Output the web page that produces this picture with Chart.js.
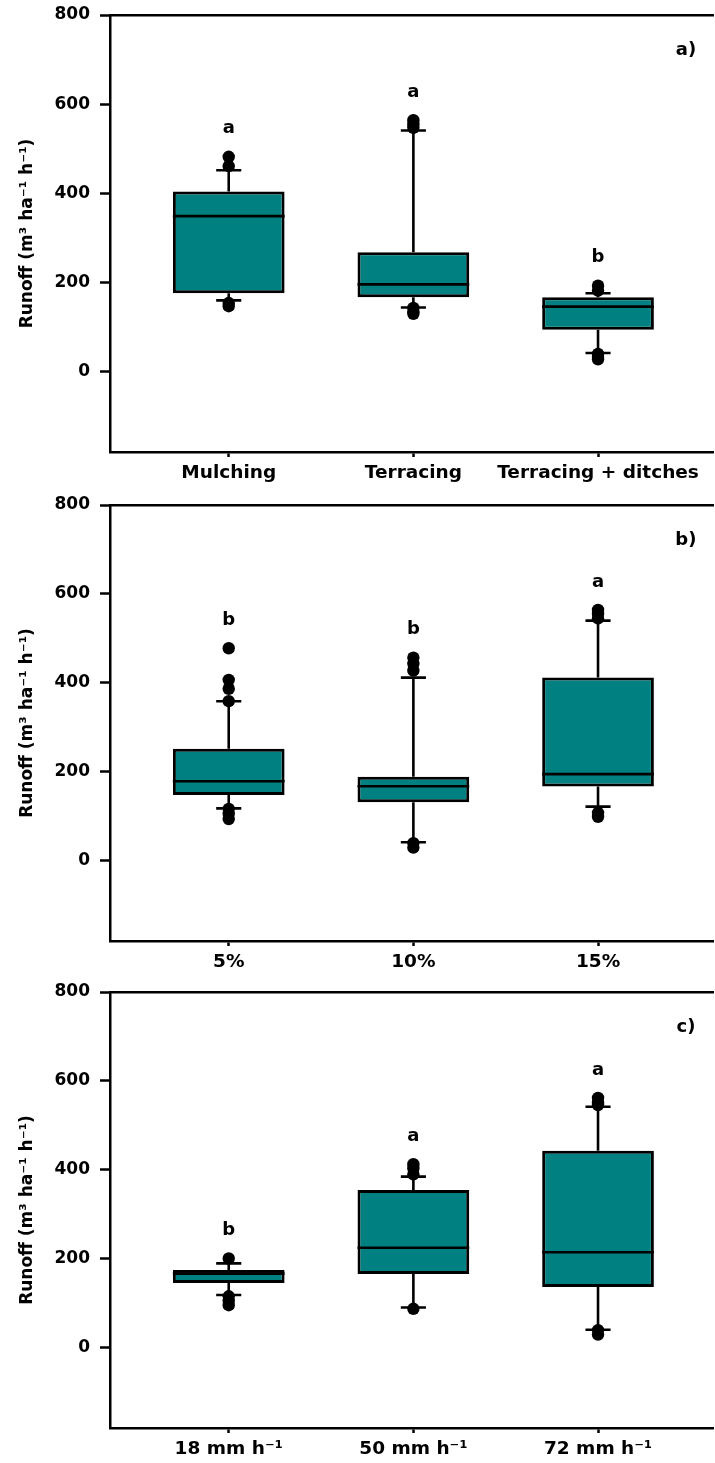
<!DOCTYPE html>
<html>
<head>
<meta charset="utf-8">
<script src="https://cdn.jsdelivr.net/npm/chart.js@4.4.1/dist/chart.umd.min.js"></script>
<style>
  html, body { margin: 0; background: #fff; overflow: hidden; }
  .painel { position: absolute; left: 0; }
  canvas { display: block; }
</style>
</head>
<body>
<div class="painel" style="top:0px"><canvas id="chartA" width="720" height="490"></canvas></div>
<div class="painel" style="top:490px"><canvas id="chartB" width="720" height="485"></canvas></div>
<div class="painel" style="top:975px"><canvas id="chartC" width="720" height="488"></canvas></div>
<script>
// Painel a) - práticas
const catsA = ['Mulching', 'Terracing', 'Terracing + ditches'];
const q1A = [176, 167, 94];
const medA = [349, 196, 146];
const q3A = [404, 268, 167];
const loA = [160, 144, 42];
const hiA = [452, 541, 176];
const outA = [[482, 461, 154, 147], [564, 555, 547, 143, 135, 130], [193, 182, 40, 33, 28]];
const letrasA = ['a', 'a', 'b'];

// Painel b) - declividade
const catsB = ['5%', '10%', '15%'];
const q1B = [148, 132, 167];
const medB = [179, 168, 195];
const q3B = [252, 189, 412];
const loB = [118, 42, 122];
const hiB = [359, 412, 540];
const outB = [[478, 407, 387, 359, 117, 106, 94], [457, 443, 428, 40, 30], [564, 555, 545, 108, 99]];
const letrasB = ['b', 'b', 'a'];

// Painel c) - intensidade da chuva
const catsC = ['18 mm h⁻¹', '50 mm h⁻¹', '72 mm h⁻¹'];
const q1C = [146, 166, 137];
const medC = [167, 225, 215];
const q3C = [175, 355, 443];
const loC = [119, 91, 41];
const hiC = [190, 385, 542];
const outC = [[201, 116, 106, 96], [413, 404, 390, 88], [562, 552, 546, 40, 30]];
const letrasC = ['b', 'a', 'a'];

const yTicks = [0, 200, 400, 600, 800];

const COR_CAIXA = '#008080';
const LARG_CAIXA = 0.605;  // fração do espaço entre categorias
const MEIA_HASTE = 0.068;  // meia largura do traço do bigode

Chart.defaults.font.family = '"DejaVu Sans", sans-serif';
Chart.defaults.font.weight = 'bold';
Chart.defaults.color = '#000';

// Letras de significância e rótulo do painel
const letrasPlugin = {
    id: 'letras',
    afterDatasetsDraw(chart, args, opts) {
        const { ctx, chartArea } = chart;
        const x = chart.scales.x;
        const y = chart.scales.y;
        ctx.save();
        ctx.fillStyle = '#000';
        ctx.font = 'bold 18px "DejaVu Sans"';
        ctx.textAlign = 'center';
        ctx.textBaseline = 'middle';
        opts.letras.forEach((l, i) => {
            const topo = Math.max(opts.hi[i], ...opts.out[i]);
            ctx.fillText(l, x.getPixelForValue(i + 1), y.getPixelForValue(topo) - 28);
        });
        ctx.fillText(opts.painel, x.getPixelForValue(3.476), chartArea.top + 35);
        ctx.restore();
    }
};

// sem folgas automáticas: a área do gráfico fica onde a gente manda
function semFolga(s) {
    s.paddingTop = 0;
    s.paddingBottom = 0;
    s.paddingLeft = 0;
    s.paddingRight = 0;
}

function desenhaPainel(id, cats, q1, med, q3, lo, hi, out, letras, painel, padTop, altX) {
    const caixas = q1.map((v, i) => ({ x: i + 1, y: [v, q3[i]] }));
    const medianas = [];
    const bigodes = [];
    const pontos = [];
    q1.forEach((v, i) => {
        const c = i + 1;
        medianas.push({ x: c - LARG_CAIXA / 2, y: med[i] }, { x: c + LARG_CAIXA / 2, y: med[i] }, { x: c, y: null });
        bigodes.push(
            { x: c, y: q3[i] }, { x: c, y: hi[i] }, { x: c, y: null },
            { x: c - MEIA_HASTE, y: hi[i] }, { x: c + MEIA_HASTE, y: hi[i] }, { x: c, y: null },
            { x: c, y: v }, { x: c, y: lo[i] }, { x: c, y: null },
            { x: c - MEIA_HASTE, y: lo[i] }, { x: c + MEIA_HASTE, y: lo[i] }, { x: c, y: null }
        );
        out[i].forEach(o => pontos.push({ x: c, y: o }));
    });

    const linha = {
        type: 'line',
        borderColor: '#000',
        borderWidth: 2.6,
        pointRadius: 0,
        pointHitRadius: 0,
        fill: false,
        tension: 0,
        spanGaps: false
    };

    new Chart(document.getElementById(id).getContext('2d'), {
        type: 'bar',
        data: {
            datasets: [
                {
                    type: 'bar',
                    data: caixas,
                    backgroundColor: COR_CAIXA,
                    borderColor: '#000',
                    borderWidth: 3,
                    borderSkipped: false,
                    barPercentage: LARG_CAIXA,
                    categoryPercentage: 1,
                    grouped: false,
                    order: 3
                },
                Object.assign({ data: bigodes, order: 2 }, linha),
                Object.assign({ data: medianas, order: 1 }, linha),
                {
                    type: 'scatter',
                    data: pontos,
                    pointRadius: 6.2,
                    pointBackgroundColor: '#000',
                    pointBorderWidth: 0,
                    order: 0
                }
            ]
        },
        options: {
            responsive: false,
            animation: false,
            layout: { padding: { top: padTop, left: 0, right: 0, bottom: 0 } },
            plugins: {
                legend: { display: false },
                tooltip: { enabled: false },
                letras: { letras: letras, hi: hi, out: out, painel: painel }
            },
            scales: {
                x: {
                    type: 'linear',
                    min: 0.357,
                    max: 3.627,
                    offset: false,
                    afterBuildTicks: s => { s.ticks = cats.map((_, i) => ({ value: i + 1 })); },
                    afterFit: s => { s.height = altX; semFolga(s); },
                    ticks: {
                        callback: v => cats[v - 1],
                        font: { size: 18.5, weight: 'bold' },
                        color: '#000',
                        padding: 5,
                        maxRotation: 0,
                        autoSkip: false
                    },
                    grid: { offset: false, drawOnChartArea: false, drawTicks: true, tickLength: 5, tickWidth: 2.5, tickColor: '#000' },
                    border: { display: true, color: '#000', width: 2.5 }
                },
                x2: {
                    type: 'linear',
                    position: 'top',
                    min: 0.357,
                    max: 3.627,
                    ticks: { display: false },
                    grid: { display: false },
                    border: { display: true, color: '#000', width: 2.5 },
                    afterFit: s => { s.height = 0; semFolga(s); }
                },
                y: {
                    min: -180,
                    max: 800,
                    afterBuildTicks: s => { s.ticks = yTicks.map(v => ({ value: v })); },
                    afterFit: s => { s.width = 110; semFolga(s); },
                    ticks: { font: { size: 17, weight: 'bold' }, color: '#000', padding: 10 },
                    grid: { drawOnChartArea: false, drawTicks: true, tickLength: 10, tickWidth: 2.5, tickColor: '#000' },
                    border: { display: true, color: '#000', width: 2.5 },
                    title: {
                        display: true,
                        text: 'Runoff (m³ ha⁻¹ h⁻¹)',
                        font: { size: 17, weight: 'bold' },
                        color: '#000',
                        padding: { top: 17, bottom: 0 }
                    }
                }
            }
        },
        plugins: [letrasPlugin]
    });
}

desenhaPainel('chartA', catsA, q1A, medA, q3A, loA, hiA, outA, letrasA, 'a)', 15, 38);
desenhaPainel('chartB', catsB, q1B, medB, q3B, loB, hiB, outB, letrasB, 'b)', 15, 34);
desenhaPainel('chartC', catsC, q1C, medC, q3C, loC, hiC, outC, letrasC, 'c)', 17, 35);
</script>
</body>
</html>
